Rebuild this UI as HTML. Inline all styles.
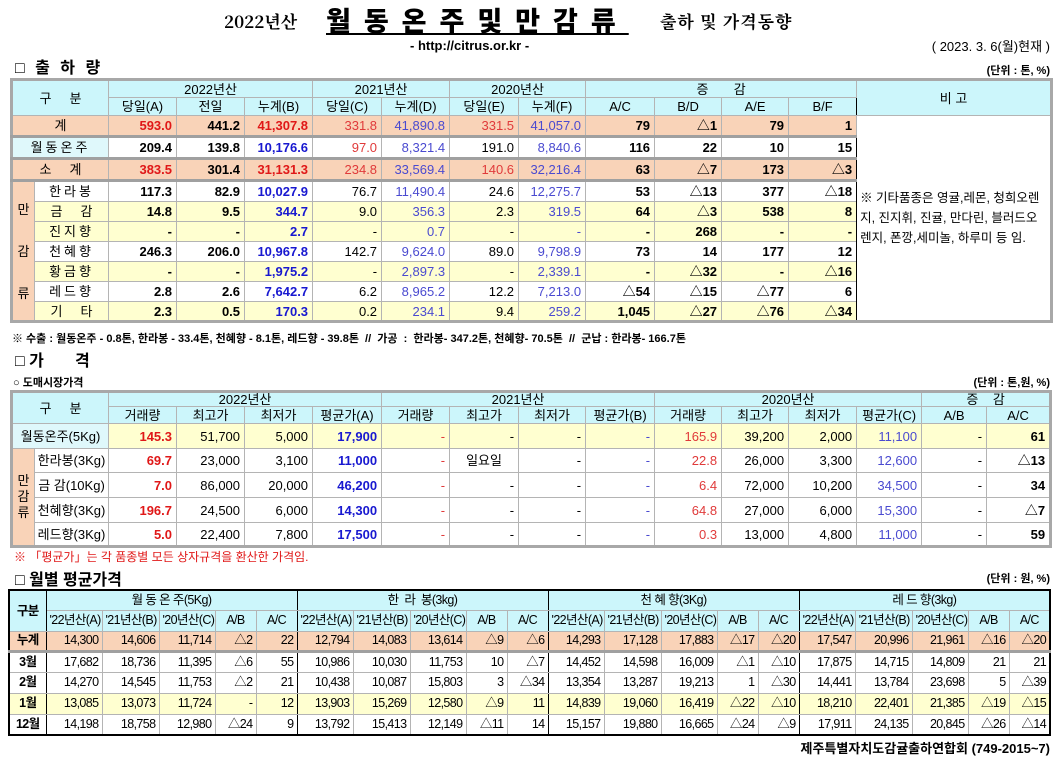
<!DOCTYPE html>
<html><head><meta charset="utf-8">
<style>
*{margin:0;padding:0;box-sizing:border-box}
body{width:1062px;height:759px;background:#fff;position:relative;overflow:hidden;font-family:"Liberation Sans","Noto Sans CJK KR",sans-serif;color:#000}
.a{position:absolute;white-space:nowrap}
table{position:absolute;border-collapse:collapse;table-layout:fixed}
td{border:1px solid #b4b4b4;font-size:13px;text-align:right;padding:0 4px;white-space:nowrap;overflow:hidden;line-height:1}
.h td{background:#ccf6fb;text-align:center;padding:0}
.c{text-align:center}
.pe td{background:#f9d3b8}
.ye td{background:#ffffd0}
.b{font-weight:bold}
.r{color:#e01818}.bl{color:#1818d0}.lb{color:#4a4ad0}.lr{color:#e03a3a}
.L{border-left:1px solid #000}
.tk td{border-top:3px solid #a0a0a0}
.side{background:#f9d3b8!important;text-align:center;padding:0}
#m td{font-size:12.5px;letter-spacing:-0.6px;padding:0 3px}
</style></head><body>
<div class="a" style="left:224px;top:8px;font-size:17px;font-weight:bold;font-family:'Noto Serif CJK SC',serif">2022년산</div>
<div class="a" style="left:326px;top:0px;font-size:27px;font-weight:900;letter-spacing:13px;text-decoration:underline;font-family:'Noto Sans CJK KR',sans-serif">월동온주및만감류</div>
<div class="a" style="left:660px;top:8px;font-size:17px;font-weight:bold;letter-spacing:1px;font-family:'Noto Serif CJK SC',serif">출하 및 가격동향</div>
<div class="a" style="left:410px;top:38px;font-size:13px;font-weight:bold">- http://citrus.or.kr -</div>
<div class="a" style="right:12px;top:36px;font-size:13px">( 2023. 3. 6(월)현재 )</div>
<div class="a" style="left:15px;top:54px;font-size:16px;font-weight:bold;letter-spacing:3px">□ 출 하 량</div>
<div class="a" style="right:12px;top:62px;font-size:11px;font-weight:bold">(단위 : 톤, %)</div>

<table style="left:10px;top:78px;width:1040px;border:3px solid #a8a8a8">
<colgroup><col style="width:23px"><col style="width:74px"><col style="width:68px"><col style="width:68px"><col style="width:68px"><col style="width:69px"><col style="width:68px"><col style="width:69px"><col style="width:67px"><col style="width:69px"><col style="width:67px"><col style="width:67px"><col style="width:68px"><col style="width:195px"></colgroup>
<tr class="h" style="height:18px"><td colspan="2" rowspan="2">구 &nbsp; &nbsp; 분</td><td colspan="3" class="L">2022년산</td><td colspan="2" class="L">2021년산</td><td colspan="2" class="L">2020년산</td><td colspan="4" class="L">증 &nbsp; &nbsp; &nbsp; 감</td><td rowspan="2" class="L">비 고</td></tr>
<tr class="h" style="height:18px"><td class="L">당일(A)</td><td>전일</td><td>누계(B)</td><td class="L">당일(C)</td><td>누계(D)</td><td class="L">당일(E)</td><td>누계(F)</td><td class="L">A/C</td><td>B/D</td><td>A/E</td><td>B/F</td></tr>
<tr class="pe" style="height:21px"><td colspan="2" class="c">계</td><td class="L b r">593.0</td><td class="b">441.2</td><td class="b r">41,307.8</td><td class="L lr">331.8</td><td class="lb">41,890.8</td><td class="L lr">331.5</td><td class="lb">41,057.0</td><td class="L b">79</td><td class="b">△1</td><td class="b">79</td><td class="b">1</td><td rowspan="10" class="L" style="background:#fff;text-align:left;padding:0 3px;font-size:12.5px;line-height:20px;white-space:normal;vertical-align:middle">※ 기타품종은 영귤,레몬, 청희오렌지, 진지휘, 진귤, 만다린, 블러드오렌지, 폰깡,세미놀, 하루미 등 임.</td></tr>
<tr class="tk" style="height:22px"><td colspan="2" class="c" style="background:#dff8fb;letter-spacing:3px">월동온주</td><td class="L b">209.4</td><td class="b">139.8</td><td class="b bl">10,176.6</td><td class="L lr">97.0</td><td class="lb">8,321.4</td><td class="L">191.0</td><td class="lb">8,840.6</td><td class="L b">116</td><td class="b">22</td><td class="b">10</td><td class="b">15</td></tr>
<tr class="pe tk" style="height:22px"><td colspan="2" class="c">소 &nbsp; &nbsp; 계</td><td class="L b r">383.5</td><td class="b">301.4</td><td class="b r">31,131.3</td><td class="L lr">234.8</td><td class="lb">33,569.4</td><td class="L lr">140.6</td><td class="lb">32,216.4</td><td class="L b">63</td><td class="b">△7</td><td class="b">173</td><td class="b">△3</td></tr>
<tr class="tk" style="height:21px"><td rowspan="7" class="side" style="line-height:21px;font-size:13px">만<br><br>감<br><br>류</td><td class="c" style="letter-spacing:3px">한라봉</td><td class="L b">117.3</td><td class="b">82.9</td><td class="b bl">10,027.9</td><td class="L">76.7</td><td class="lb">11,490.4</td><td class="L">24.6</td><td class="lb">12,275.7</td><td class="L b">53</td><td class="b">△13</td><td class="b">377</td><td class="b">△18</td></tr>
<tr class="ye" style="height:20px"><td class="c">금 &nbsp; &nbsp; 감</td><td class="L b">14.8</td><td class="b">9.5</td><td class="b bl">344.7</td><td class="L">9.0</td><td class="lb">356.3</td><td class="L">2.3</td><td class="lb">319.5</td><td class="L b">64</td><td class="b">△3</td><td class="b">538</td><td class="b">8</td></tr>
<tr class="ye" style="height:20px"><td class="c" style="letter-spacing:3px">진지향</td><td class="L b">-</td><td class="b">-</td><td class="b bl">2.7</td><td class="L">-</td><td class="lb">0.7</td><td class="L">-</td><td class="lb">-</td><td class="L b">-</td><td class="b">268</td><td class="b">-</td><td class="b">-</td></tr>
<tr style="height:20px"><td class="c" style="letter-spacing:3px">천혜향</td><td class="L b">246.3</td><td class="b">206.0</td><td class="b bl">10,967.8</td><td class="L">142.7</td><td class="lb">9,624.0</td><td class="L">89.0</td><td class="lb">9,798.9</td><td class="L b">73</td><td class="b">14</td><td class="b">177</td><td class="b">12</td></tr>
<tr class="ye" style="height:20px"><td class="c" style="letter-spacing:3px">황금향</td><td class="L b">-</td><td class="b">-</td><td class="b bl">1,975.2</td><td class="L">-</td><td class="lb">2,897.3</td><td class="L">-</td><td class="lb">2,339.1</td><td class="L b">-</td><td class="b">△32</td><td class="b">-</td><td class="b">△16</td></tr>
<tr style="height:20px"><td class="c" style="letter-spacing:3px">레드향</td><td class="L b">2.8</td><td class="b">2.6</td><td class="b bl">7,642.7</td><td class="L">6.2</td><td class="lb">8,965.2</td><td class="L">12.2</td><td class="lb">7,213.0</td><td class="L b">△54</td><td class="b">△15</td><td class="b">△77</td><td class="b">6</td></tr>
<tr class="ye" style="height:20px"><td class="c">기 &nbsp; &nbsp; 타</td><td class="L b">2.3</td><td class="b">0.5</td><td class="b bl">170.3</td><td class="L">0.2</td><td class="lb">234.1</td><td class="L">9.4</td><td class="lb">259.2</td><td class="L b">1,045</td><td class="b">△27</td><td class="b">△76</td><td class="b">△34</td></tr>
</table>

<div class="a" style="left:12px;top:330px;font-size:11px;font-weight:bold">※ 수출 : 월동온주 - 0.8톤, 한라봉 - 33.4톤, 천혜향 - 8.1톤, 레드향 - 39.8톤 &nbsp;// &nbsp;가공 &nbsp;: &nbsp;한라봉- 347.2톤, 천혜향- 70.5톤 &nbsp;// &nbsp;군납 : 한라봉- 166.7톤</div>
<div class="a" style="left:15px;top:347px;font-size:16px;font-weight:bold">□ 가 &nbsp; &nbsp; &nbsp; 격</div>
<div class="a" style="left:13px;top:374px;font-size:11px;font-weight:bold">○ 도매시장가격</div>
<div class="a" style="right:12px;top:374px;font-size:11px;font-weight:bold">(단위 : 톤,원, %)</div>

<table style="left:10px;top:390px;width:1040px;border:3px solid #a8a8a8">
<colgroup><col style="width:23px"><col style="width:74px"><col style="width:68px"><col style="width:68px"><col style="width:68px"><col style="width:69px"><col style="width:68px"><col style="width:69px"><col style="width:67px"><col style="width:69px"><col style="width:67px"><col style="width:67px"><col style="width:68px"><col style="width:65px"><col style="width:65px"><col style="width:64px"></colgroup>
<tr class="h" style="height:15px"><td colspan="2" rowspan="2">구 &nbsp; &nbsp; 분</td><td colspan="4" class="L">2022년산</td><td colspan="4" class="L">2021년산</td><td colspan="4" class="L">2020년산</td><td colspan="2" class="L">증 &nbsp; &nbsp;감</td></tr>
<tr class="h" style="height:17px"><td class="L">거래량</td><td>최고가</td><td>최저가</td><td>평균가(A)</td><td class="L">거래량</td><td>최고가</td><td>최저가</td><td>평균가(B)</td><td class="L">거래량</td><td>최고가</td><td>최저가</td><td>평균가(C)</td><td class="L">A/B</td><td style="border-left:1px dotted #000">A/C</td></tr>
<tr class="ye" style="height:25px"><td colspan="2" class="c" style="background:#dff8fb">월동온주(5Kg)</td><td class="L b r">145.3</td><td>51,700</td><td>5,000</td><td class="b bl">17,900</td><td class="L lr">-</td><td>-</td><td>-</td><td class="lb">-</td><td class="L lr">165.9</td><td>39,200</td><td>2,000</td><td class="lb">11,100</td><td class="L">-</td><td class="b" style="border-left:1px dotted #000">61</td></tr>
<tr style="height:24px"><td rowspan="4" class="side" style="line-height:16px">만<br>감<br>류</td><td class="c" style="padding:0">한라봉(3Kg)</td><td class="L b r">69.7</td><td>23,000</td><td>3,100</td><td class="b bl">11,000</td><td class="L lr">-</td><td class="c">일요일</td><td>-</td><td class="lb">-</td><td class="L lr">22.8</td><td>26,000</td><td>3,300</td><td class="lb">12,600</td><td class="L">-</td><td class="b" style="border-left:1px dotted #000">△13</td></tr>
<tr style="height:25px"><td class="c" style="padding:0">금 감(10Kg)</td><td class="L b r">7.0</td><td>86,000</td><td>20,000</td><td class="b bl">46,200</td><td class="L lr">-</td><td>-</td><td>-</td><td class="lb">-</td><td class="L lr">6.4</td><td>72,000</td><td>10,200</td><td class="lb">34,500</td><td class="L">-</td><td class="b" style="border-left:1px dotted #000">34</td></tr>
<tr style="height:25px"><td class="c" style="padding:0">천혜향(3Kg)</td><td class="L b r">196.7</td><td>24,500</td><td>6,000</td><td class="b bl">14,300</td><td class="L lr">-</td><td>-</td><td>-</td><td class="lb">-</td><td class="L lr">64.8</td><td>27,000</td><td>6,000</td><td class="lb">15,300</td><td class="L">-</td><td class="b" style="border-left:1px dotted #000">△7</td></tr>
<tr style="height:24px"><td class="c" style="padding:0">레드향(3Kg)</td><td class="L b r">5.0</td><td>22,400</td><td>7,800</td><td class="b bl">17,500</td><td class="L lr">-</td><td>-</td><td>-</td><td class="lb">-</td><td class="L lr">0.3</td><td>13,000</td><td>4,800</td><td class="lb">11,000</td><td class="L">-</td><td class="b" style="border-left:1px dotted #000">59</td></tr>
</table>
<div class="a" style="left:14px;top:548px;font-size:12px;color:#e01818">※ 「평균가」는 각 품종별 모든 상자규격을 환산한 가격임.</div>

<div class="a" style="left:15px;top:566px;font-size:16px;font-weight:bold">□ 월별 평균가격</div>
<div class="a" style="right:12px;top:570px;font-size:11px;font-weight:bold">(단위 : 원, %)</div>

<table id="m" style="left:8px;top:589px;width:1042px;border:2px solid #000">
<colgroup><col style="width:37px"><col style="width:56px"><col style="width:57px"><col style="width:56px"><col style="width:41px"><col style="width:41px"><col style="width:56px"><col style="width:57px"><col style="width:56px"><col style="width:41px"><col style="width:41px"><col style="width:56px"><col style="width:57px"><col style="width:56px"><col style="width:41px"><col style="width:41px"><col style="width:56px"><col style="width:57px"><col style="width:56px"><col style="width:41px"><col style="width:41px"></colgroup>
<tr class="h" style="height:20px"><td rowspan="2" class="b" style="border-right:1px solid #000">구분</td><td colspan="5" style="border-right:1px solid #000">월 동 온 주(5Kg)</td><td colspan="5" style="border-right:1px solid #000">한 &nbsp;라 &nbsp;봉(3kg)</td><td colspan="5" style="border-right:1px solid #000">천 혜 향(3Kg)</td><td colspan="5">레 드 향(3kg)</td></tr>
<tr class="h" style="height:21px"><td>'22년산(A)</td><td>'21년산(B)</td><td>'20년산(C)</td><td>A/B</td><td style="border-right:1px solid #000">A/C</td><td>'22년산(A)</td><td>'21년산(B)</td><td>'20년산(C)</td><td>A/B</td><td style="border-right:1px solid #000">A/C</td><td>'22년산(A)</td><td>'21년산(B)</td><td>'20년산(C)</td><td>A/B</td><td style="border-right:1px solid #000">A/C</td><td>'22년산(A)</td><td>'21년산(B)</td><td>'20년산(C)</td><td>A/B</td><td>A/C</td></tr>
<tr class="pe" style="height:20px"><td class="c b" style="border-right:1px solid #000">누계</td><td>14,300</td><td>14,606</td><td>11,714</td><td>△2</td><td style="border-right:1px solid #000">22</td><td>12,794</td><td>14,083</td><td>13,614</td><td>△9</td><td style="border-right:1px solid #000">△6</td><td>14,293</td><td>17,128</td><td>17,883</td><td>△17</td><td style="border-right:1px solid #000">△20</td><td>17,547</td><td>20,996</td><td>21,961</td><td>△16</td><td>△20</td></tr>
<tr class="tk" style="height:21px"><td class="c b" style="border-right:1px solid #000">3월</td><td>17,682</td><td>18,736</td><td>11,395</td><td>△6</td><td style="border-right:1px solid #000">55</td><td>10,986</td><td>10,030</td><td>11,753</td><td>10</td><td style="border-right:1px solid #000">△7</td><td>14,452</td><td>14,598</td><td>16,009</td><td>△1</td><td style="border-right:1px solid #000">△10</td><td>17,875</td><td>14,715</td><td>14,809</td><td>21</td><td>21</td></tr>
<tr style="height:21px"><td class="c b" style="border-right:1px solid #000">2월</td><td>14,270</td><td>14,545</td><td>11,753</td><td>△2</td><td style="border-right:1px solid #000">21</td><td>10,438</td><td>10,087</td><td>15,803</td><td>3</td><td style="border-right:1px solid #000">△34</td><td>13,354</td><td>13,287</td><td>19,213</td><td>1</td><td style="border-right:1px solid #000">△30</td><td>14,441</td><td>13,784</td><td>23,698</td><td>5</td><td>△39</td></tr>
<tr class="ye" style="height:21px"><td class="c b" style="border-right:1px solid #000">1월</td><td>13,085</td><td>13,073</td><td>11,724</td><td>-</td><td style="border-right:1px solid #000">12</td><td>13,903</td><td>15,269</td><td>12,580</td><td>△9</td><td style="border-right:1px solid #000">11</td><td>14,839</td><td>19,060</td><td>16,419</td><td>△22</td><td style="border-right:1px solid #000">△10</td><td>18,210</td><td>22,401</td><td>21,385</td><td>△19</td><td>△15</td></tr>
<tr style="height:21px"><td class="c b" style="border-right:1px solid #000">12월</td><td>14,198</td><td>18,758</td><td>12,980</td><td>△24</td><td style="border-right:1px solid #000">9</td><td>13,792</td><td>15,413</td><td>12,149</td><td>△11</td><td style="border-right:1px solid #000">14</td><td>15,157</td><td>19,880</td><td>16,665</td><td>△24</td><td style="border-right:1px solid #000">△9</td><td>17,911</td><td>24,135</td><td>20,845</td><td>△26</td><td>△14</td></tr>
</table>
<div class="a" style="right:12px;top:738px;font-size:13px;font-weight:bold">제주특별자치도감귤출하연합회 (749-2015~7)</div>
</body></html>
